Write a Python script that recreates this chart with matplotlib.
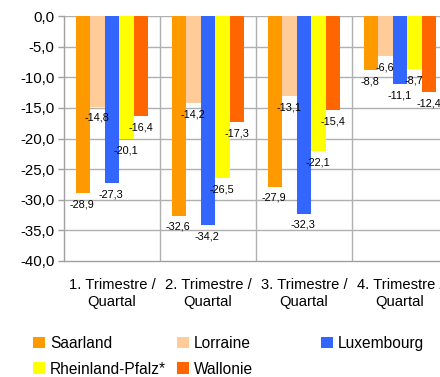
import matplotlib
matplotlib.use("Agg")
import matplotlib.pyplot as plt
import numpy as np
from matplotlib.patches import Patch

categories = ["1. Trimestre /\nQuartal", "2. Trimestre /\nQuartal",
              "3. Trimestre /\nQuartal", "4. Trimestre /\nQuartal"]
series_names = ["Saarland", "Lorraine", "Luxembourg", "Rheinland-Pfalz*", "Wallonie"]
saarland = [-28.9, -32.6, -27.9, -8.8]
lorraine = [-14.8, -14.2, -13.1, -6.6]
luxembourg = [-27.3, -34.2, -32.3, -11.1]
rheinland = [-20.1, -26.5, -22.1, -8.7]
wallonie = [-16.4, -17.3, -15.4, -12.4]
colors = ["#FF9900", "#FFCC99", "#3366FF", "#FFFF00", "#FF6600"]
yticks = [0, -5, -10, -15, -20, -25, -30, -35, -40]

values = [saarland, lorraine, luxembourg, rheinland, wallonie]

plt.rcParams['font.family'] = ['Liberation Sans', 'DejaVu Sans']

fig = plt.figure(figsize=(4.40, 3.77), dpi=100)
ax = fig.add_axes([64/440, 116/377, 384/440, 245/377])

n = len(series_names)
group_w = 0.76
bw = group_w / n
x = np.arange(len(categories))
for i, (name, vals, c) in enumerate(zip(series_names, values, colors)):
    pos = x - group_w/2 + bw*(i + 0.5)
    ax.bar(pos, vals, width=bw, color=c, label=name, zorder=2)
    for p, v in zip(pos, vals):
        ax.annotate(f"{v:.1f}".replace(".", ","), (p, v), xytext=(-0.5, -8),
                    textcoords="offset points", ha="center", va="center",
                    fontsize=7.8, color="black", zorder=5)

ax.set_xlim(-0.5, len(categories) - 0.5)
ax.set_ylim(-40, 0)
ax.set_yticks(yticks)
ax.set_yticklabels([f"{t:.1f}".replace(".", ",") for t in yticks], fontsize=10.8)
ax.set_xticks(x)
ax.set_xticklabels(categories, fontsize=10.6, linespacing=1.3)
ax.tick_params(axis='x', length=0, pad=12)
ax.tick_params(axis='y', length=4, width=1, color="#A0A0A0", pad=3)

grid_c = "#AFAFAF"
for t in yticks[:-1]:
    ax.axhline(t, color=grid_c, lw=1, zorder=1)
for b in np.arange(0.5, len(categories) - 0.5, 1.0):
    ax.axvline(b, color=grid_c, lw=1, zorder=1)
for s in ["top", "right"]:
    ax.spines[s].set_visible(False)
for s in ["left", "bottom"]:
    ax.spines[s].set_color("#A0A0A0")
    ax.spines[s].set_linewidth(1)

# legend: three columns placed like the reference
handles = [Patch(facecolor=c, edgecolor="none") for c in colors]
col_groups = [[0, 3], [1, 4], [2]]
col_x = [33/440, 177/440, 321/440]
for gx, grp in zip(col_x, col_groups):
    leg = fig.legend([handles[i] for i in grp], [series_names[i] for i in grp],
                     loc="upper left", bbox_to_anchor=(gx, 1 - 336/377),
                     frameon=False, fontsize=11.2, handlelength=0.75, handleheight=0.75,
                     handletextpad=0.35, labelspacing=0.68, borderpad=0, borderaxespad=0)

fig.savefig("out.png", dpi=100)
